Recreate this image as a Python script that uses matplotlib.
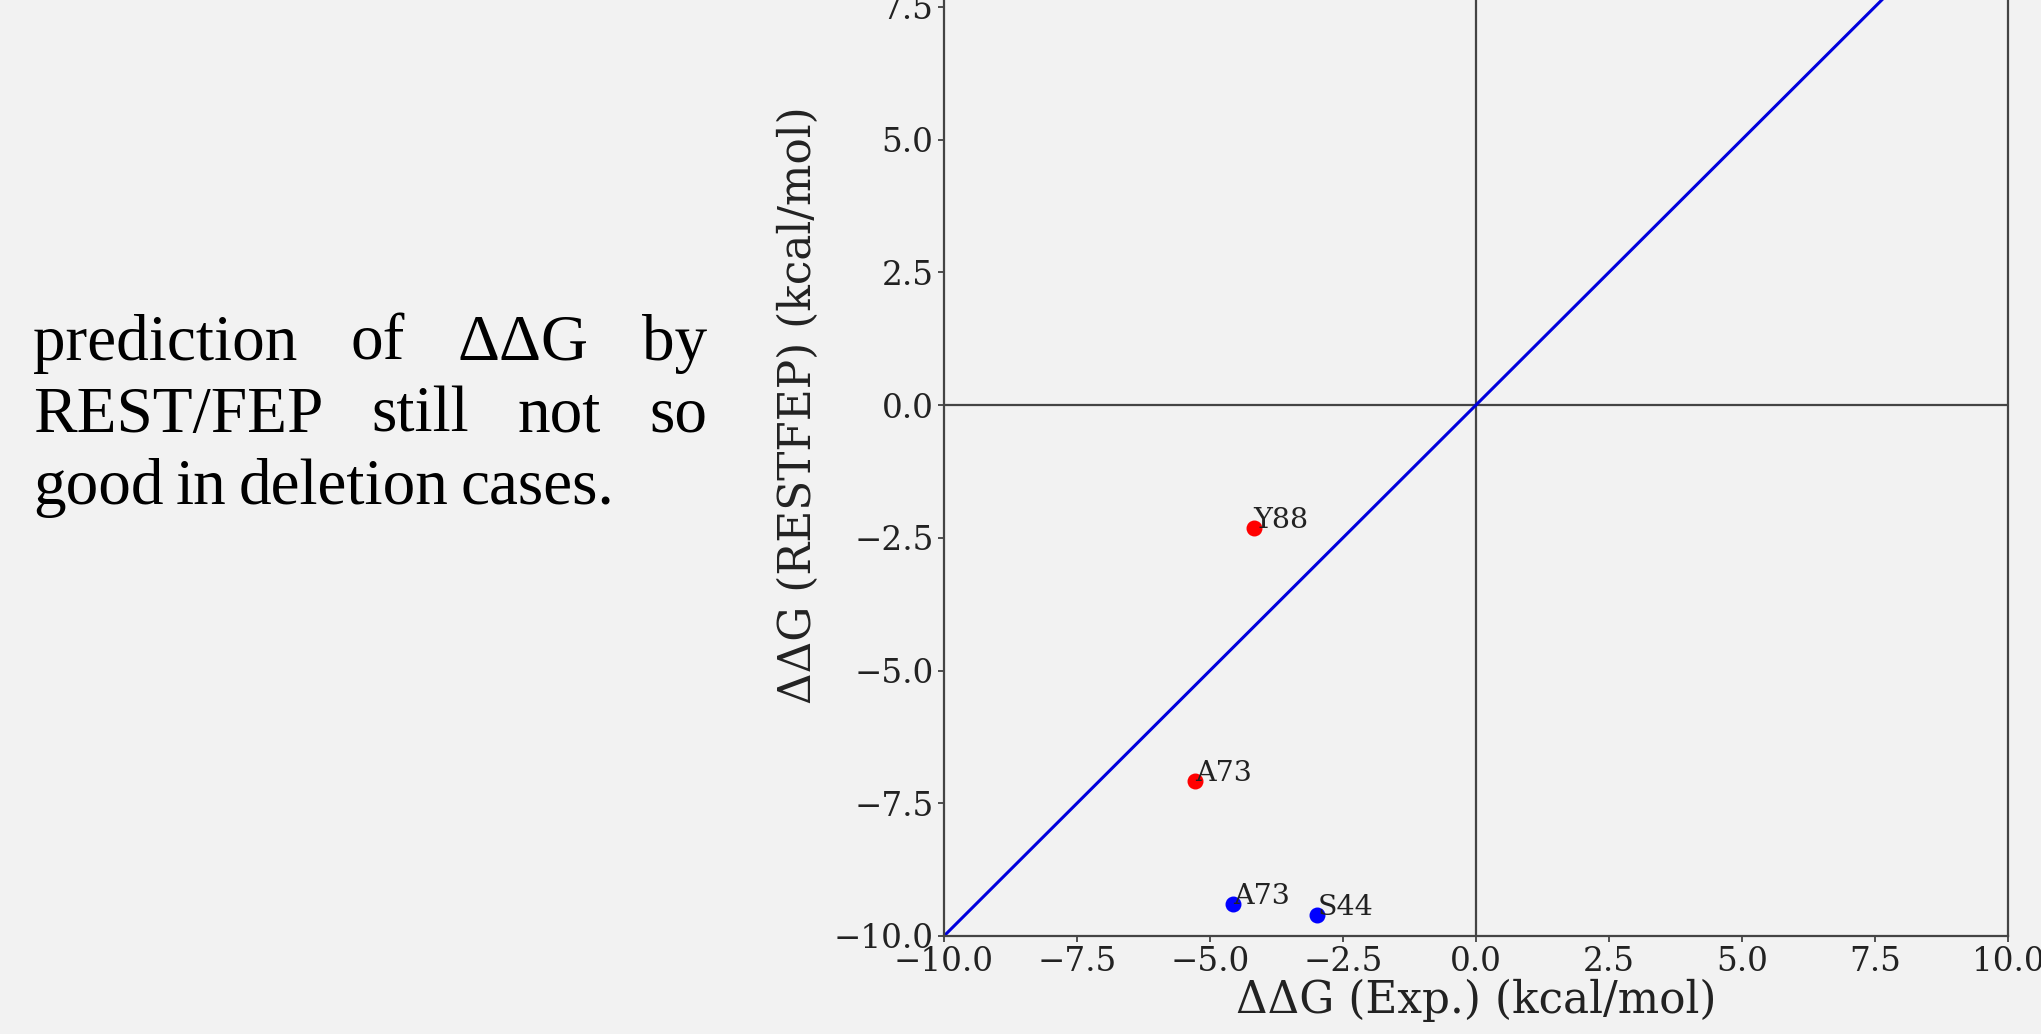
import matplotlib
matplotlib.use("Agg")
import matplotlib.pyplot as plt

# ---- data ----
red_labels = ["Y88", "A73"]
red_exp = [-4.18, -5.28]
red_calc = [-2.31, -7.08]

blue_labels = ["A73", "S44"]
blue_exp = [-4.57, -2.98]
blue_calc = [-9.39, -9.61]

diag = [-10, 10]
ticks = [-10.0, -7.5, -5.0, -2.5, 0.0, 2.5, 5.0, 7.5, 10.0]

para_lines = [
    ["prediction", "of", "ΔΔG", "by"],
    ["REST/FEP", "still", "not", "so"],
    ["good", "in", "deletion", "cases."],
]

BG = "#f2f2f2"
W, H = 2041, 1034
fig = plt.figure(figsize=(W / 100, H / 100), dpi=100, facecolor=BG)

ax = fig.add_axes([944 / W, 1 - 936 / H, (2008 - 944) / W, (936 + 126) / H])
ax.set_facecolor(BG)
ax.set_xlim(-10, 10)
ax.set_ylim(-10, 10)

serif = "DejaVu Serif"
ax.axhline(0, color="#444444", lw=1.6, zorder=1)
ax.axvline(0, color="#444444", lw=1.6, zorder=1)
ax.plot(diag, diag, color="#0000dd", lw=2.2, zorder=2)

ax.scatter(red_exp, red_calc, s=110, color="red", zorder=3)
ax.scatter(blue_exp, blue_calc, s=110, color="blue", zorder=3)
for x, y, t in zip(red_exp + blue_exp, red_calc + blue_calc, red_labels + blue_labels):
    ax.text(x, y, t, fontsize=20.5, family=serif, color="#222222", zorder=4)

ax.set_xticks(ticks)
ax.set_yticks(ticks)
ax.set_xticklabels([f"{t:.1f}".replace("-", "\u2212") for t in ticks])
ax.set_yticklabels([f"{t:.1f}".replace("-", "\u2212") for t in ticks])
ax.tick_params(labelsize=23.5, length=4.5, width=1.2, color="#333333", labelcolor="#222222", pad=3)
for lab in ax.get_xticklabels() + ax.get_yticklabels():
    lab.set_family(serif)
for sp in ax.spines.values():
    sp.set_color("#444444")
    sp.set_linewidth(1.6)

ax.set_xlabel("ΔΔG (Exp.) (kcal/mol)", fontsize=31.5, family=serif, color="#222222", labelpad=0)
ax.set_ylabel("ΔΔG (RESTFEP) (kcal/mol)", fontsize=31.5, family=serif, color="#222222", labelpad=10)

# ---- justified paragraph on the left ----
fig.canvas.draw()
renderer = fig.canvas.get_renderer()
x0, x1 = 33, 707
baselines = [360, 432, 504]
fs = 47
for li, (words, yb) in enumerate(zip(para_lines, baselines)):
    texts = [fig.text(0, 1 - yb / H, w, fontsize=fs, family="Liberation Serif",
                      color="black", va="baseline", ha="left") for w in words]
    widths = [t.get_window_extent(renderer).width for t in texts]
    if li < len(para_lines) - 1:
        gap = (x1 - x0 - sum(widths)) / (len(words) - 1)
    else:
        sp = fig.text(0, 0, "a a", fontsize=fs, family="Liberation Serif")
        a = fig.text(0, 0, "aa", fontsize=fs, family="Liberation Serif")
        gap = 0.75 * (sp.get_window_extent(renderer).width - a.get_window_extent(renderer).width)
        sp.remove(); a.remove()
    cx = x0
    for t, w in zip(texts, widths):
        t.set_x(cx / W)
        cx += w + gap

fig.savefig("out.png", dpi=100, facecolor=BG)
